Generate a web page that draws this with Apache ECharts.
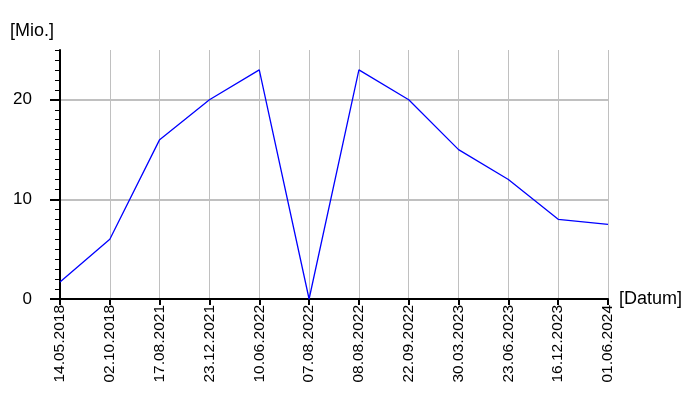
<!DOCTYPE html>
<html>
<head>
<meta charset="utf-8">
<script src="https://cdn.jsdelivr.net/npm/echarts@6/dist/echarts.min.js"></script>
<style>html,body{margin:0;padding:0;background:#fff}#c{width:700px;height:400px}</style>
</head>
<body>
<div id="c"></div>
<script>
const categories = ['14.05.2018','02.10.2018','17.08.2021','23.12.2021','10.06.2022','07.08.2022','08.08.2022','22.09.2022','30.03.2023','23.06.2023','16.12.2023','01.06.2024'];
const values = [1.7, 6, 16, 20, 23, 0, 23, 20, 15, 12, 8, 7.5];
const yTicks = [0, 10, 20];
const yTopTick = [25];

const chart = echarts.init(document.getElementById('c'), null, {renderer: 'canvas'});
const font = 'Liberation Sans, Arial, sans-serif';
chart.setOption({
  animation: false,
  backgroundColor: '#fff',
  grid: {left: 60, right: 92, top: 50, bottom: 101},
  xAxis: {
    type: 'category',
    data: categories,
    boundaryGap: false,
    name: '[Datum]',
    nameLocation: 'end',
    nameGap: 10,
    nameTextStyle: {color: '#000', fontFamily: font, fontSize: 18, verticalAlign: 'middle'},
    axisLine: {lineStyle: {color: '#000', width: 2}},
    axisTick: {show: true, alignWithLabel: true, length: 6, lineStyle: {color: '#000', width: 2}},
    axisLabel: {rotate: 90, margin: 6, color: '#000', fontFamily: font, fontSize: 15.5, interval: 0},
    splitLine: {show: true, lineStyle: {color: '#c0c0c0', width: 1}}
  },
  yAxis: [{
    type: 'value',
    min: 0,
    max: 25,
    interval: 10,
    name: '[Mio.]',
    nameLocation: 'end',
    nameGap: 10,
    nameTextStyle: {color: '#000', fontFamily: font, fontSize: 18, align: 'left', padding: [0, 0, 0, -50]},
    axisLine: {show: true, lineStyle: {color: '#000', width: 2}},
    axisTick: {show: true, inside: false, length: 10, customValues: yTicks, lineStyle: {color: '#000', width: 2}},
    minorTick: {show: true, splitNumber: 10, length: 5, lineStyle: {color: '#000', width: 1}},
    axisLabel: {margin: 28, color: '#000', fontFamily: font, fontSize: 17, customValues: yTicks},
    splitLine: {show: true, lineStyle: {color: '#c0c0c0', width: 2}}
  }, {
    type: 'value',
    min: 0,
    max: 25,
    interval: 10,
    position: 'left',
    axisLine: {show: false},
    axisTick: {show: true, inside: false, length: 5, customValues: yTopTick, lineStyle: {color: '#000', width: 1}},
    axisLabel: {show: false},
    splitLine: {show: false}
  }],
  series: [{
    type: 'line',
    data: values,
    symbol: 'none',
    lineStyle: {color: '#0000ff', width: 1.3}
  }]
});
</script>
</body>
</html>
